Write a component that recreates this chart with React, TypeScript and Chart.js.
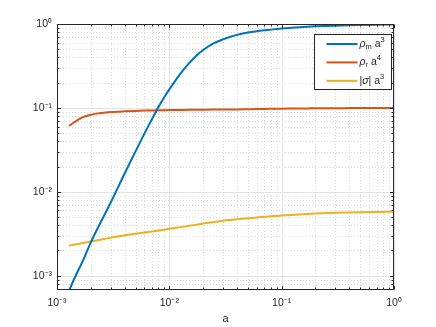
import React, { useEffect, useRef } from "react";
import { Chart, registerables } from "chart.js";

Chart.register(...registerables);

// ---- data ----
const aValues = [
  1.28e-3, 1.45e-3, 1.7e-3, 2e-3, 2.5e-3, 3e-3, 4e-3, 5e-3, 6e-3, 7e-3, 8e-3, 9e-3,
  0.01, 0.0125, 0.015, 0.0175, 0.02, 0.025, 0.03, 0.035, 0.04, 0.05, 0.06, 0.07, 0.08,
  0.1, 0.13, 0.17, 0.2, 0.3, 0.4, 0.5, 0.7, 1,
];
const rhoMA3 = [
  6.6e-4, 9.7e-4, 1.5e-3, 2.5e-3, 4.58e-3, 7.4e-3, 0.0165, 0.0303, 0.0494, 0.0731, 0.1025, 0.134,
  0.166, 0.255, 0.342, 0.422, 0.49, 0.59, 0.655, 0.706, 0.742, 0.792, 0.82, 0.84, 0.857,
  0.882, 0.908, 0.928, 0.938, 0.956, 0.966, 0.972, 0.98, 0.987,
];
const rhoRA4 = [
  0.061, 0.0685, 0.0775, 0.083, 0.0872, 0.0893, 0.0911, 0.0921, 0.0928, 0.0933, 0.0937, 0.094,
  0.0942, 0.0945, 0.0948, 0.095, 0.0952, 0.0955, 0.0957, 0.0959, 0.096, 0.0965, 0.0969, 0.0972, 0.0975,
  0.098, 0.0983, 0.0986, 0.0988, 0.0992, 0.0994, 0.0996, 0.0998, 0.1,
];
const sigmaA3 = [
  2.28e-3, 2.35e-3, 2.45e-3, 2.55e-3, 2.7e-3, 2.83e-3, 3.03e-3, 3.16e-3, 3.27e-3, 3.37e-3, 3.45e-3, 3.53e-3,
  3.62e-3, 3.79e-3, 3.93e-3, 4.06e-3, 4.18e-3, 4.37e-3, 4.52e-3, 4.62e-3, 4.7e-3, 4.84e-3, 4.95e-3, 5.03e-3, 5.1e-3,
  5.21e-3, 5.34e-3, 5.44e-3, 5.5e-3, 5.61e-3, 5.67e-3, 5.71e-3, 5.75e-3, 5.79e-3,
];
const seriesLabels = ["ρ_m a^3", "ρ_r a^4", "|σ| a^3"];
const seriesColors = ["#0072BD", "#D95319", "#EDB120"];
const xTickValues = [1e-3, 1e-2, 1e-1, 1];
const xTickLabels = ["10⁻³", "10⁻²", "10⁻¹", "10⁰"];
const yTickValues = [1e-3, 1e-2, 1e-1, 1];
const yTickLabels = ["10⁻³", "10⁻²", "10⁻¹", "10⁰"];
const xTitle = "a";
const xMin = 1e-3;
const xMax = 1;
const yMin = 6.75e-4;
const yMax = 1;

const FONT = "'Liberation Sans', Arial, Helvetica, sans-serif";
const AXIS_COLOR = "#262626";

function logTicks(min: number, max: number) {
  const out: { value: number; major: boolean }[] = [];
  const d0 = Math.floor(Math.log10(min));
  const d1 = Math.ceil(Math.log10(max));
  for (let d = d0; d <= d1; d++) {
    for (let k = 1; k <= 9; k++) {
      const v = k * Math.pow(10, d);
      if (v >= min * 0.999999 && v <= max * 1.000001) out.push({ value: v, major: k === 1 });
    }
  }
  return out;
}

function labelFor(values: number[], labels: string[], v: number) {
  for (let i = 0; i < values.length; i++) {
    if (Math.abs(Math.log10(values[i]) - Math.log10(v)) < 1e-6) return labels[i];
  }
  return "";
}

const matlabAxes = {
  id: "matlabAxes",
  beforeDatasetsDraw(chart: any) {
    const { ctx, chartArea: ca } = chart;
    const xs = chart.scales.x;
    const ys = chart.scales.y;
    ctx.save();
    ctx.lineWidth = 1;
    // minor grid (dotted)
    ctx.setLineDash([1, 2]);
    ctx.strokeStyle = "#dadada";
    for (const t of xs.ticks) {
      if (t.major) continue;
      const px = Math.round(xs.getPixelForValue(t.value)) + 0.5;
      ctx.beginPath(); ctx.moveTo(px, ca.top); ctx.lineTo(px, ca.bottom); ctx.stroke();
    }
    for (const t of ys.ticks) {
      if (t.major) continue;
      const py = Math.round(ys.getPixelForValue(t.value)) + 0.5;
      ctx.beginPath(); ctx.moveTo(ca.left, py); ctx.lineTo(ca.right, py); ctx.stroke();
    }
    // major grid (solid)
    ctx.setLineDash([]);
    ctx.strokeStyle = "#e2e2e2";
    for (const t of xs.ticks) {
      if (!t.major) continue;
      const px = Math.round(xs.getPixelForValue(t.value)) + 0.5;
      ctx.beginPath(); ctx.moveTo(px, ca.top); ctx.lineTo(px, ca.bottom); ctx.stroke();
    }
    for (const t of ys.ticks) {
      if (!t.major) continue;
      const py = Math.round(ys.getPixelForValue(t.value)) + 0.5;
      ctx.beginPath(); ctx.moveTo(ca.left, py); ctx.lineTo(ca.right, py); ctx.stroke();
    }
    ctx.restore();
  },
  afterDatasetsDraw(chart: any) {
    const { ctx, chartArea: ca } = chart;
    const xs = chart.scales.x;
    const ys = chart.scales.y;
    const L = Math.round(ca.left) + 0.5;
    const R = Math.round(ca.right) - 0.5;
    const T = Math.round(ca.top) + 0.5;
    const B = Math.round(ca.bottom) - 0.5;
    ctx.save();
    ctx.strokeStyle = AXIS_COLOR;
    ctx.lineWidth = 1;
    ctx.setLineDash([]);
    ctx.strokeRect(L, T, R - L, B - T);
    for (const t of xs.ticks) {
      const len = t.major ? 3.5 : 2;
      const px = Math.round(xs.getPixelForValue(t.value)) + 0.5;
      ctx.beginPath();
      ctx.moveTo(px, B); ctx.lineTo(px, B - len);
      ctx.moveTo(px, T); ctx.lineTo(px, T + len);
      ctx.stroke();
    }
    for (const t of ys.ticks) {
      const len = t.major ? 3.5 : 2;
      const py = Math.round(ys.getPixelForValue(t.value)) + 0.5;
      ctx.beginPath();
      ctx.moveTo(L, py); ctx.lineTo(L + len, py);
      ctx.moveTo(R, py); ctx.lineTo(R - len, py);
      ctx.stroke();
    }
    ctx.restore();
  },
};

type Part = { t: string; italic?: boolean; sub?: boolean; sup?: boolean };
function parseLabel(s: string): Part[] {
  const parts: Part[] = [];
  for (let i = 0; i < s.length; i++) {
    const c = s[i];
    if ((c === "_" || c === "^") && i + 1 < s.length) {
      parts.push({ t: s[i + 1], sub: c === "_", sup: c === "^" });
      i++;
    } else if (/[α-ω]/.test(c)) {
      parts.push({ t: c, italic: true });
    } else {
      parts.push({ t: c });
    }
  }
  return parts;
}

const matlabLegend = {
  id: "matlabLegend",
  afterDraw(chart: any) {
    const { ctx, chartArea: ca } = chart;
    const w = 77;
    const h = 55;
    const left = Math.round(ca.right - 3 - w) + 0.5;
    const top = Math.round(ca.top + 10) + 0.5;
    ctx.save();
    ctx.fillStyle = "#ffffff";
    ctx.fillRect(left, top, w, h);
    ctx.strokeStyle = AXIS_COLOR;
    ctx.lineWidth = 1;
    ctx.strokeRect(left, top, w, h);
    chart.data.datasets.forEach((ds: any, i: number) => {
      const y = top + 9.5 + i * 18.4;
      ctx.strokeStyle = ds.borderColor;
      ctx.lineWidth = 2;
      ctx.beginPath();
      ctx.moveTo(left + 12, y);
      ctx.lineTo(left + 43, y);
      ctx.stroke();
      let x = left + 45;
      ctx.fillStyle = AXIS_COLOR;
      ctx.textBaseline = "middle";
      ctx.textAlign = "left";
      for (const p of parseLabel(ds.label)) {
        const size = p.sub || p.sup ? 7.5 : 10.5;
        ctx.font = `${p.italic ? "italic " : ""}${size}px ${FONT}`;
        const dy = p.sub ? 3 : p.sup ? -4 : 0;
        ctx.fillText(p.t, x, y + dy);
        x += ctx.measureText(p.t).width;
      }
    });
    ctx.restore();
  },
};

export default function App() {
  const canvasRef = useRef<HTMLCanvasElement | null>(null);

  useEffect(() => {
    if (!canvasRef.current) return;
    const series = [rhoMA3, rhoRA4, sigmaA3];
    const chart = new Chart(canvasRef.current, {
      type: "line",
      data: {
        datasets: series.map((vals, i) => ({
          label: seriesLabels[i],
          data: aValues.map((a, j) => ({ x: a, y: vals[j] })),
          borderColor: seriesColors[i],
          backgroundColor: seriesColors[i],
          borderWidth: 2,
          pointRadius: 0,
          cubicInterpolationMode: "monotone" as const,
          fill: false,
        })),
      },
      options: {
        animation: false,
        responsive: false,
        devicePixelRatio: 1,
        layout: { padding: { top: 24, right: 42, left: 0, bottom: 0 } },
        plugins: {
          legend: { display: false },
          tooltip: { enabled: false },
        },
        scales: {
          x: {
            type: "logarithmic",
            min: xMin,
            max: xMax,
            grid: { display: false, drawTicks: false },
            border: { display: false },
            afterBuildTicks: (scale: any) => { scale.ticks = logTicks(xMin, xMax); },
            afterFit: (scale: any) => { scale.height = 37; },
            ticks: {
              autoSkip: false,
              maxRotation: 0,
              padding: 7,
              color: AXIS_COLOR,
              font: { family: FONT, size: 10.5 },
              callback: (v: any) => labelFor(xTickValues, xTickLabels, Number(v)),
            },
            title: {
              display: true,
              text: xTitle,
              color: AXIS_COLOR,
              font: { family: FONT, size: 11 },
              padding: { top: 0, bottom: 1 },
            },
          },
          y: {
            type: "logarithmic",
            min: yMin,
            max: yMax,
            grid: { display: false, drawTicks: false },
            border: { display: false },
            afterBuildTicks: (scale: any) => { scale.ticks = logTicks(yMin, yMax); },
            afterFit: (scale: any) => { scale.width = 57; },
            ticks: {
              autoSkip: false,
              padding: 5,
              color: AXIS_COLOR,
              font: { family: FONT, size: 10.5 },
              callback: (v: any) => labelFor(yTickValues, yTickLabels, Number(v)),
            },
          },
        },
      },
      plugins: [matlabAxes, matlabLegend],
    } as any);
    return () => chart.destroy();
  }, []);

  return (
    <div style={{ position: "absolute", left: 0, top: 0, width: 436, height: 327, background: "#ffffff" }}>
      <canvas ref={canvasRef} width={436} height={327} />
    </div>
  );
}
